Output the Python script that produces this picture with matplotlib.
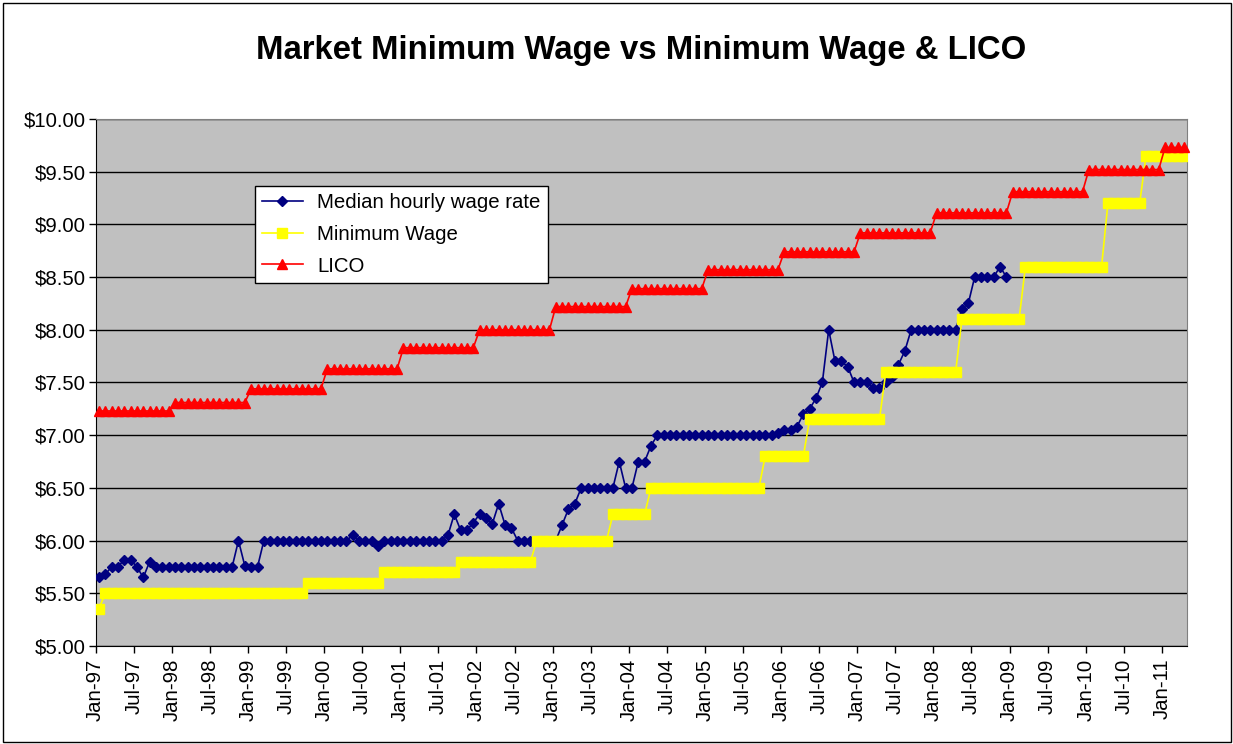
import numpy as np
import matplotlib.pyplot as plt
from matplotlib.lines import Line2D
from matplotlib.patches import Rectangle

plt.rcParams['font.family'] = ['Liberation Sans', 'DejaVu Sans']

# monthly tick labels, Jan-97 .. Jan-11 every 6 months
tick_labels = []
for yr in range(97, 112):
    for mon in ['Jan', 'Jul']:
        tick_labels.append(f'{mon}-{yr % 100:02d}')
tick_labels = tick_labels[:29]

# median hourly wage rate, Jan-97 .. Dec-08 (one row per year)
median_wage = [
    5.65, 5.68, 5.75, 5.75, 5.82, 5.82, 5.75, 5.65, 5.80, 5.75, 5.75, 5.75,
    5.75, 5.75, 5.75, 5.75, 5.75, 5.75, 5.75, 5.75, 5.75, 5.75, 6.00, 5.76,
    5.75, 5.75, 6.00, 6.00, 6.00, 6.00, 6.00, 6.00, 6.00, 6.00, 6.00, 6.00,
    6.00, 6.00, 6.00, 6.00, 6.05, 6.00, 6.00, 6.00, 5.95, 6.00, 6.00, 6.00,
    6.00, 6.00, 6.00, 6.00, 6.00, 6.00, 6.00, 6.05, 6.25, 6.10, 6.10, 6.17,
    6.25, 6.21, 6.16, 6.35, 6.15, 6.12, 6.00, 6.00, 6.00, 6.00, 6.00, 6.00,
    6.00, 6.15, 6.30, 6.35, 6.50, 6.50, 6.50, 6.50, 6.50, 6.50, 6.75, 6.50,
    6.50, 6.75, 6.75, 6.90, 7.00, 7.00, 7.00, 7.00, 7.00, 7.00, 7.00, 7.00,
    7.00, 7.00, 7.00, 7.00, 7.00, 7.00, 7.00, 7.00, 7.00, 7.00, 7.00, 7.02,
    7.05, 7.05, 7.08, 7.20, 7.25, 7.35, 7.50, 8.00, 7.70, 7.70, 7.65, 7.50,
    7.50, 7.50, 7.45, 7.45, 7.50, 7.55, 7.67, 7.80, 8.00, 8.00, 8.00, 8.00,
    8.00, 8.00, 8.00, 8.00, 8.20, 8.25, 8.50, 8.50, 8.50, 8.50, 8.60, 8.50,
]

# minimum wage: level and number of months it holds
min_wage_levels = [5.35, 5.50, 5.60, 5.70, 5.80, 6.00, 6.25, 6.50, 6.80, 7.15, 7.60, 8.10, 8.60, 9.20, 9.65]
min_wage_months = [1, 32, 12, 12, 12, 12, 6, 18, 7, 12, 12, 10, 13, 6, 7]

# LICO: yearly level, 1997 .. 2011
lico_levels = [7.23, 7.31, 7.44, 7.63, 7.83, 8.00, 8.22, 8.39, 8.57, 8.74, 8.92, 9.11, 9.31, 9.52, 9.73]
lico_months = [12, 12, 12, 12, 12, 12, 12, 12, 12, 12, 12, 12, 12, 12, 4]

min_wage = np.repeat(min_wage_levels, min_wage_months)
lico = np.repeat(lico_levels, lico_months)
n = len(min_wage)
x = np.arange(n)

fig = plt.figure(figsize=(12.33, 7.44), dpi=100)
ax = fig.add_axes([0.0776, 0.1317, 0.8853, 0.7084])
ax.set_facecolor('#C0C0C0')

ax.plot(x[:len(median_wage)], median_wage, color='#000080', lw=1.2,
        marker='D', ms=5.5, mec='#000080', mfc='#000080', zorder=3)
ax.plot(x, min_wage, color='#FFFF00', lw=1.2,
        marker='s', ms=6.7, mec='#FFFF00', mfc='#FFFF00', zorder=4)
ax.plot(x, lico, color='#FF0000', lw=1.2,
        marker='^', ms=7.2, mec='#FF0000', mfc='#FF0000', zorder=5, clip_on=False)

ax.set_xlim(-0.5, n - 0.5)
ax.set_ylim(5, 10)

ax.set_yticks(np.arange(5, 10.01, 0.5))
ax.set_yticklabels([f'${v:.2f}' for v in np.arange(5, 10.01, 0.5)])
ax.set_xticks(np.arange(len(tick_labels)) * 6 - 0.5)
ax.set_xticklabels(tick_labels, rotation=90)
ax.tick_params(axis='both', direction='out', length=5, width=1, color='black',
               labelsize=14.7, pad=2)
ax.tick_params(axis='x', pad=4)

ax.yaxis.grid(True, color='black', lw=1)
ax.set_axisbelow(True)

for side in ['top', 'right']:
    ax.spines[side].set_color('#808080')
for side in ['left', 'bottom']:
    ax.spines[side].set_color('black')

fig.text(0.5203, 1 - 51 / 744, 'Market Minimum Wage vs Minimum Wage & LICO',
         ha='center', va='center', fontsize=23.7, fontweight='bold')

handles = [
    Line2D([], [], color='#000080', lw=1.2, marker='D', ms=5.5),
    Line2D([], [], color='#FFFF00', lw=1.2, marker='s', ms=6.7),
    Line2D([], [], color='#FF0000', lw=1.2, marker='^', ms=7.2),
]
leg = ax.legend(handles, ['Median hourly wage rate', 'Minimum Wage', 'LICO'],
                loc='upper left', bbox_to_anchor=(0.1457, 0.8726), borderaxespad=0,
                fontsize=14.7, frameon=True, fancybox=False, framealpha=1,
                edgecolor='black', borderpad=0.35, labelspacing=0.62,
                handlelength=2.0, handletextpad=0.7)
leg.get_frame().set_linewidth(1)

# outer chart border
fig.patches.append(Rectangle((3 / 1233, 2 / 744), 1228 / 1233, 739 / 744,
                             transform=fig.transFigure, fill=False,
                             edgecolor='black', lw=1))

fig.savefig('out.png', dpi=100)
